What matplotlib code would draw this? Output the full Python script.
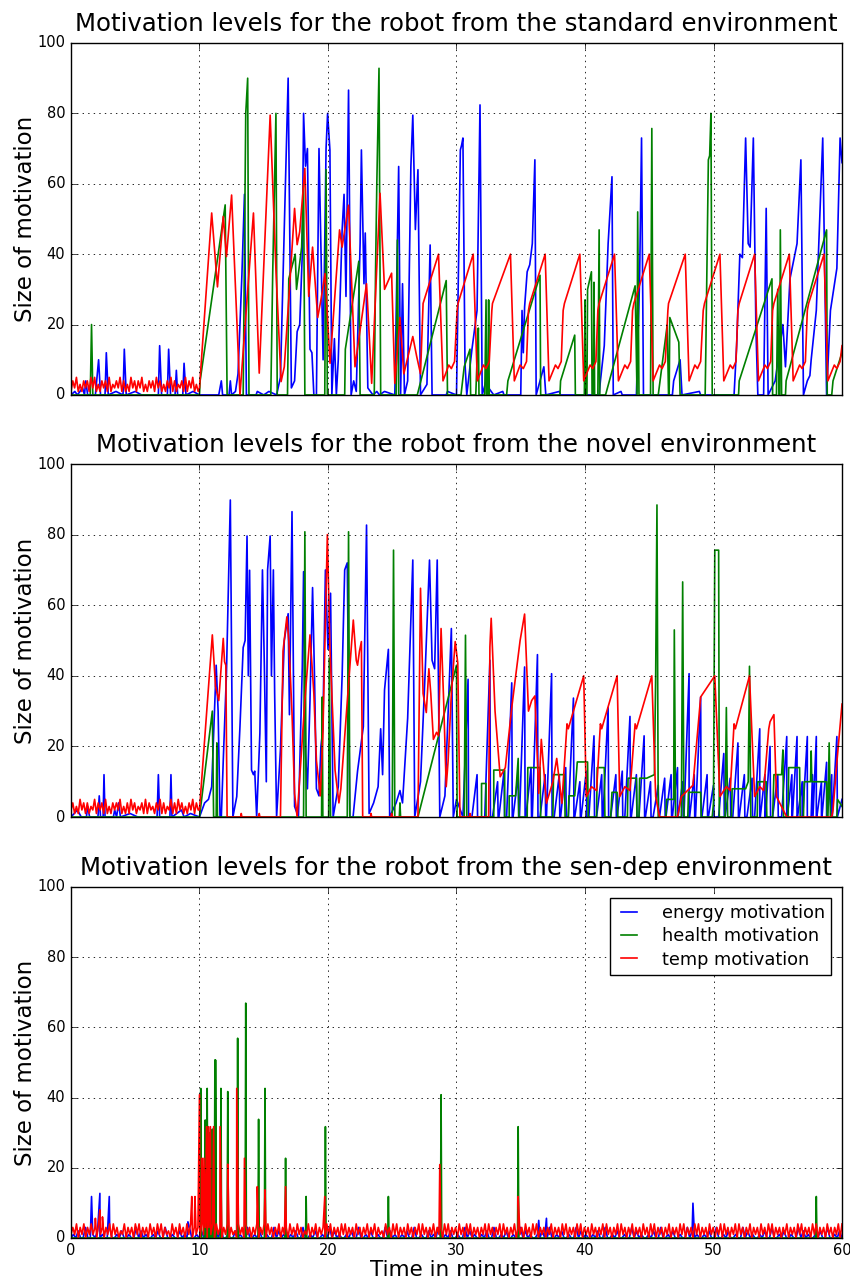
import numpy as np
import matplotlib
matplotlib.use("Agg")
import matplotlib.pyplot as plt

# values: (time in minutes, size of motivation)

TITLES = ["Motivation levels for the robot from the standard environment",
          "Motivation levels for the robot from the novel environment",
          "Motivation levels for the robot from the sen-dep environment"]
LABELS = ["energy motivation", "health motivation", "temp motivation"]
X_TICKS = [0, 10, 20, 30, 40, 50, 60]
Y_TICKS = [0, 20, 40, 60, 80, 100]

# ---------------- standard environment ----------------
STD_TEMP_BASE = "14251314241525131424151324251413152414251314241524131425141324151425131"
STD_TEMP = [
    (10.0, 2), (10.95, 51.7), (11.4, 30.7), (11.85, 50.7), (12.1, 39.3), (12.5, 56.8),
    (13.15, 0), (14.2, 51.7), (14.65, 6.2), (15.5, 79.5), (15.95, 35.5), (16.35, 3.8),
    (16.6, 8), (17.0, 30), (17.4, 53), (17.6, 42.7), (17.8, 46.4), (18.2, 64.4),
    (18.5, 28), (18.8, 42), (19.2, 22), (19.45, 27), (19.77, 34.5), (20.16, 9),
    (20.9, 46.9), (21.1, 42), (21.6, 53.9), (22.1, 8), (23.0, 31.6), (23.4, 3.3),
    (24.05, 57.3), (24.4, 30), (24.95, 34.6), (25.2, 3.3), (25.6, 22), (25.9, 6),
    (26.6, 16.6), (26.9, 11), (27.2, 6), (27.4, 26),
    (28.6, 40), (28.95, 4), (29.4, 8.5), (29.6, 7.5), (29.85, 9.5), (30.05, 24), (30.12, 26),
    (31.3, 40), (31.62, 4), (32.1, 8.5), (32.3, 7.5), (32.55, 9.5), (32.75, 24), (32.8, 26),
    (34.2, 40), (34.5, 4), (34.95, 8.5), (35.2, 7.5), (35.45, 9.5), (35.6, 24), (35.7, 26),
    (36.9, 40), (37.2, 4), (37.7, 8.5), (37.9, 7.5), (38.15, 9.5), (38.3, 24), (38.4, 26),
    (39.6, 40), (39.9, 4), (40.4, 8.5), (40.6, 7.5), (40.85, 9.5), (41.0, 24), (41.1, 26),
    (42.3, 40), (42.6, 4), (43.1, 8.5), (43.3, 7.5), (43.55, 9.5), (43.7, 24), (43.8, 26),
    (45.0, 40), (45.3, 4), (45.8, 8.5), (46.0, 7.5), (46.25, 9.5), (46.45, 24), (46.5, 26),
    (47.8, 40), (48.1, 4), (48.55, 8.5), (48.75, 7.5), (49.0, 9.5), (49.2, 24), (49.3, 26),
    (50.5, 40), (50.8, 4), (51.3, 8.5), (51.5, 7.5), (51.75, 9.5), (51.9, 24), (52.0, 26),
    (53.2, 40), (53.5, 4), (54.0, 8.5), (54.2, 7.5), (54.45, 9.5), (54.6, 24), (54.7, 26),
    (55.9, 40), (56.2, 4), (56.7, 8.5), (56.9, 7.5), (57.15, 9.5), (57.3, 24), (57.4, 26),
    (58.6, 40), (58.9, 4), (59.4, 8.5), (59.6, 7.5), (59.85, 9.5), (60.0, 14),
]
STD_ENERGY = [
    (0, 0), (0.3, 1), (0.5, 0), (0.9, 2), (1.05, 0), (1.15, 4), (1.3, 0), (1.9, 0), (2.15, 10),
    (2.3, 0), (2.65, 0), (2.75, 12), (2.9, 0), (3.5, 1), (4.05, 0), (4.15, 13), (4.3, 0),
    (5.0, 1), (5.5, 0), (6.8, 0), (6.9, 14), (7.05, 0), (7.5, 0), (7.6, 13), (7.75, 0),
    (8.1, 0), (8.2, 7), (8.3, 0), (8.7, 0), (8.8, 9), (8.95, 0), (9.5, 1), (10.0, 0),
    (11.5, 0), (11.7, 4), (11.8, 0), (12.3, 0), (12.4, 4), (12.5, 0), (12.8, 1), (13.0, 6),
    (13.3, 34), (13.5, 57), (13.65, 0), (14.4, 0), (14.5, 1), (15.0, 0), (15.4, 1), (16.0, 0),
    (16.3, 5), (16.55, 40), (16.9, 90), (17.15, 2), (17.4, 4), (17.6, 18), (17.8, 20),
    (18.0, 40), (18.1, 80), (18.25, 65), (18.4, 70), (18.5, 40), (18.6, 13), (18.75, 12),
    (18.9, 0), (19.1, 0), (19.3, 70), (19.45, 42.6), (19.62, 10), (19.85, 70), (19.97, 80),
    (20.15, 69.6), (20.3, 0), (20.5, 16), (20.65, 0), (20.8, 10), (21.1, 46.9), (21.25, 57),
    (21.4, 28), (21.6, 86.6), (21.8, 0), (22.0, 4), (22.2, 1), (22.5, 43), (22.6, 69.6),
    (22.8, 31.6), (22.9, 46), (23.1, 2), (23.5, 0), (23.8, 1), (24.0, 0), (24.4, 1), (25.2, 0),
    (25.5, 64.9), (25.65, 0), (25.8, 31.6), (25.95, 0), (26.2, 4), (26.45, 64.9), (26.6, 79.5),
    (26.8, 47), (27.0, 64), (27.2, 0), (27.7, 3), (27.95, 42.6), (28.1, 0), (29.2, 0), (29.3, 1),
    (30.0, 0), (30.3, 69.6), (30.4, 71), (30.5, 73), (30.66, 9), (30.8, 0), (31.2, 12.9),
    (31.6, 24), (31.83, 82.4), (32.0, 0), (32.3, 4), (32.5, 2), (32.9, 0), (33.6, 1), (33.7, 0),
    (35.0, 0), (35.1, 24), (35.2, 12), (35.3, 25), (35.5, 35), (35.7, 37), (35.9, 43),
    (36.1, 66.8), (36.2, 0), (36.5, 4), (36.8, 8), (36.95, 0), (38.0, 1), (38.1, 0),
    (41.1, 0), (41.2, 4), (41.5, 14), (41.8, 43), (42.1, 62), (42.2, 0), (42.8, 1), (42.9, 0),
    (44.0, 0), (44.25, 33), (44.4, 73), (44.55, 0), (46.8, 0), (46.9, 4), (47.4, 10),
    (47.55, 0), (48.9, 1), (49.0, 0), (51.6, 0), (51.8, 14), (52.05, 40), (52.25, 39),
    (52.5, 73), (52.7, 43), (52.85, 42), (53.1, 73), (53.3, 19), (53.45, 0), (53.9, 0),
    (54.1, 53), (54.25, 0), (54.8, 4), (55.4, 20), (55.6, 8), (55.95, 33), (56.5, 43),
    (56.8, 66.8), (57.0, 0), (57.3, 4), (57.5, 5.5), (57.6, 10), (58.0, 24), (58.5, 73),
    (58.8, 0), (59.1, 24), (59.6, 36), (59.85, 73), (60.0, 66),
]
STD_HEALTH = [
    (0, 0), (1.5, 0), (1.6, 20), (1.7, 0), (10.0, 0), (10.05, 4), (12.0, 54), (12.15, 0),
    (13.4, 0), (13.6, 80), (13.75, 90), (13.85, 0), (15.55, 0), (15.7, 35), (15.95, 80),
    (16.05, 0), (16.85, 0), (16.95, 33), (17.45, 40), (17.55, 30), (17.95, 42), (18.1, 60),
    (18.2, 0), (19.75, 0), (19.85, 64), (19.95, 0), (21.3, 0), (21.35, 13), (22.4, 38),
    (22.5, 0), (23.6, 0), (23.7, 35), (23.8, 60), (23.97, 92.8), (24.1, 0), (25.3, 0),
    (25.4, 44), (25.5, 0), (26.95, 0), (29.2, 32.5), (29.3, 0), (30.35, 0), (30.6, 8),
    (31.05, 13), (31.1, 0), (31.5, 0), (31.6, 10), (31.7, 19), (31.75, 0), (32.2, 0),
    (32.3, 27), (32.35, 0), (32.45, 0), (32.5, 27), (32.55, 0), (33.9, 0), (34.0, 4),
    (36.5, 34), (36.55, 0), (38.05, 0), (38.1, 4), (39.2, 17), (39.25, 0), (39.95, 0),
    (40.0, 27), (40.05, 0), (40.15, 0), (40.2, 30), (40.5, 35), (40.55, 0), (40.65, 0),
    (40.7, 32), (40.75, 0), (41.0, 0), (41.1, 46.9), (41.15, 0), (41.6, 0), (43.9, 31),
    (44.05, 0), (44.1, 52), (44.2, 0), (45.1, 0), (45.2, 75.7), (45.3, 0), (45.7, 0),
    (46.4, 20), (46.5, 0), (46.55, 0), (46.6, 22), (47.3, 15), (47.4, 0), (49.35, 0),
    (49.4, 12), (49.6, 66.8), (49.7, 68), (49.8, 80), (49.9, 0), (51.95, 0), (52.0, 4),
    (54.55, 33), (54.6, 0), (54.9, 0), (55.0, 30), (55.1, 0), (55.15, 0), (55.2, 46.9),
    (55.3, 0), (55.6, 0), (55.65, 4), (58.8, 46.9), (58.85, 0), (59.2, 0), (59.3, 4), (60.0, 12),
]

# ---------------- novel environment ----------------
NOV_TEMP_BASE = "24131524141325142415131424251314152413241514231425141325141524131425142"
NOV_TEMP = [
    (10.0, 2), (11.0, 51.6), (11.25, 37), (11.5, 33), (11.85, 50.6), (11.95, 44), (12.05, 43),
    (12.15, 0), (13.2, 0), (13.25, 1), (13.3, 0), (14.6, 0), (14.65, 1), (14.7, 0), (16.3, 0),
    (16.5, 47), (16.8, 56.7), (16.95, 50), (17.2, 29.4), (17.4, 6.6), (17.6, 0), (18.2, 33),
    (18.6, 51.6), (18.9, 35), (19.1, 16), (19.4, 6), (19.6, 23), (19.95, 80), (20.15, 48),
    (20.3, 35), (20.55, 13.3), (20.75, 7), (20.85, 4), (21.0, 8), (21.97, 55.8), (22.2, 44.4),
    (22.3, 43), (22.45, 47), (22.6, 49.7), (22.7, 0), (23.3, 0), (23.35, 1), (23.4, 0),
    (24.9, 0), (24.95, 1), (25.0, 0), (27.0, 0), (27.2, 64.8), (27.4, 35), (27.65, 29.6),
    (27.85, 42), (28.0, 35), (28.2, 22), (28.45, 24), (28.6, 23), (28.8, 53.4), (29.0, 33),
    (29.2, 8.6), (29.35, 16), (29.6, 35), (29.9, 49.7), (30.1, 43.6), (30.27, 0), (31.0, 0),
    (31.05, 1), (31.1, 0), (32.5, 0), (32.6, 48.2), (32.7, 56.3), (33.0, 30), (33.4, 11.4),
    (33.8, 14), (34.3, 31), (34.95, 50), (35.3, 57.5), (35.6, 30), (35.85, 33), (36.1, 34.3),
    (36.4, 6.7), (36.6, 22), (37.0, 3.9), (37.5, 10), (37.8, 16.6), (38.2, 3.9), (38.6, 26.4),
    (38.7, 25), (39.9, 40), (40.1, 5.8), (40.5, 8.6), (40.9, 7.5), (41.2, 26.4), (41.3, 25),
    (42.5, 40), (42.7, 5.8), (43.1, 8.6), (43.5, 7.5), (43.9, 26.4), (44.0, 25), (45.2, 40),
    (45.5, 5.8), (45.8, 0), (47.2, 0), (47.5, 5.8), (48.4, 9), (49.0, 34), (50.1, 40),
    (50.5, 5.8), (51.0, 8.6), (51.3, 7.5), (51.6, 26.4), (51.7, 25), (52.8, 40), (53.2, 5.8),
    (53.6, 8.6), (53.9, 7.5), (54.3, 25), (54.4, 27), (54.7, 29), (54.9, 5.8), (55.7, 0),
    (59.2, 0), (59.3, 2), (59.6, 15.5), (60.0, 32),
]
NOV_ENERGY = [
    (0, 0), (0.5, 2), (0.8, 0), (1.2, 0), (1.3, 3), (1.45, 0), (2.1, 0), (2.2, 6), (2.3, 0),
    (2.5, 0), (2.57, 12), (2.65, 0), (3.3, 0), (3.4, 2), (3.55, 0), (3.7, 4), (3.85, 0),
    (4.6, 1), (5.2, 0), (6.7, 0), (6.8, 12), (6.9, 0), (7.7, 0), (7.78, 12), (7.86, 0),
    (8.6, 2), (8.8, 0), (9.3, 1), (10.0, 0), (10.4, 4), (10.7, 5), (10.95, 8.6), (11.3, 43),
    (11.45, 30), (11.6, 0), (11.7, 0), (11.85, 16), (12.1, 40.7), (12.4, 89.8), (12.6, 0),
    (12.9, 5.8), (13.15, 25.6), (13.4, 48), (13.55, 50), (13.7, 79.6), (13.8, 40), (13.9, 69.9),
    (14.05, 13.3), (14.2, 12), (14.3, 13), (14.45, 0), (14.7, 23.7), (14.9, 70), (15.05, 42.6),
    (15.2, 10), (15.3, 70), (15.5, 79.6), (15.6, 40), (15.75, 70), (15.85, 35), (16.0, 0),
    (16.3, 19), (16.6, 50), (16.9, 57.6), (17.0, 29), (17.2, 86.5), (17.3, 45), (17.4, 3),
    (17.7, 0), (18.0, 42.6), (18.1, 69.5), (18.25, 18), (18.4, 8), (18.6, 33), (18.8, 65),
    (18.95, 40), (19.1, 8), (19.3, 6), (19.45, 20), (19.6, 25), (19.8, 70), (20.0, 47.5),
    (20.2, 63.4), (20.4, 0), (20.8, 8.6), (21.1, 40), (21.3, 70), (21.5, 72), (21.7, 0),
    (21.95, 0), (22.3, 13), (22.75, 25.6), (23.0, 82.7), (23.2, 1), (23.55, 4), (23.9, 8.6),
    (24.1, 25), (24.25, 12), (24.4, 36), (24.7, 47.5), (24.8, 0), (25.3, 4), (25.6, 7.5),
    (25.8, 4), (26.2, 28), (26.6, 72.8), (26.75, 0), (27.2, 10), (27.55, 40), (27.9, 72.8),
    (28.1, 44.4), (28.3, 42), (28.5, 72.8), (28.7, 0), (29.1, 6), (29.35, 30), (29.6, 53.4),
    (29.75, 0), (30.0, 5),
]
# peaks of the short blue ramps after minute 30
NOV_ENERGY_RAMPS = [
    (30.9, 39), (31.6, 12), (32.6, 44.4), (33.2, 10), (33.7, 13), (34.3, 38), (34.8, 12),
    (35.3, 42.5), (35.8, 14), (36.3, 46), (36.9, 12), (37.4, 40.6), (38.0, 12), (38.5, 14),
    (39.1, 33.7), (39.6, 10), (40.1, 13), (40.7, 23), (41.3, 12), (41.8, 31), (42.4, 12),
    (42.9, 13), (43.5, 28.5), (44.0, 12), (44.6, 23), (45.1, 10), (45.7, 9), (46.2, 11),
    (46.7, 12), (47.2, 14), (47.6, 10), (48.1, 40.6), (48.5, 12), (49.0, 34), (49.5, 12),
    (50.0, 9), (50.8, 18), (51.3, 11), (51.9, 21), (52.4, 12), (53.0, 11), (53.6, 25),
    (54.0, 12), (54.4, 20), (55.0, 12), (55.7, 22.8), (56.1, 12), (56.5, 22.8), (56.9, 10),
    (57.3, 22.8), (57.7, 12), (58.0, 22.8), (58.4, 10), (58.8, 15.5), (59.2, 12), (59.6, 22.8),
]
NOV_HEALTH = [
    (0, 0), (10.0, 0), (11.0, 30), (11.1, 0), (11.3, 0), (11.35, 21), (11.4, 0), (18.1, 0),
    (18.2, 80.8), (18.3, 0), (19.5, 0), (19.55, 34), (19.6, 0), (20.05, 0), (20.1, 45),
    (20.2, 0), (21.5, 0), (21.6, 80.8), (21.7, 0), (25.0, 0), (25.1, 75.6), (25.2, 0),
    (25.55, 0), (25.6, 4), (25.65, 0), (27.0, 0), (30.0, 43), (30.05, 0), (30.6, 0),
    (30.7, 51.5), (30.8, 0), (31.95, 0), (31.95, 9.5), (32.3, 9.5), (32.3, 0), (32.9, 0),
    (32.9, 13.3), (33.75, 13.3), (33.75, 0), (34.1, 0), (34.1, 6), (34.6, 6), (34.8, 16.6),
    (34.85, 0), (35.5, 0), (35.55, 14), (36.5, 14), (36.55, 0), (37.5, 0), (37.55, 12),
    (38.4, 12), (38.45, 0), (38.7, 0), (38.75, 6), (39.2, 6), (39.4, 15.6), (40.2, 15.6),
    (40.25, 0), (40.9, 0), (40.95, 14), (41.5, 14), (41.55, 0), (42.0, 0), (42.1, 7),
    (42.5, 7), (42.55, 0), (43.3, 0), (43.35, 11), (44.0, 11), (44.05, 0), (44.2, 0),
    (44.25, 11), (44.8, 11), (45.4, 12), (45.5, 40), (45.6, 88.4), (45.7, 0), (46.3, 0),
    (46.35, 5), (46.9, 5), (46.95, 53), (47.05, 0), (47.5, 0), (47.6, 66.6), (47.7, 0),
    (48.0, 0), (48.05, 7), (49.0, 7), (49.05, 0), (49.9, 0), (50.0, 4), (50.1, 75.6),
    (50.4, 75.6), (50.45, 0), (50.9, 0), (51.0, 31), (51.1, 0), (51.4, 0), (51.45, 8),
    (52.5, 8), (52.7, 10), (52.8, 42.7), (52.9, 0), (53.4, 0), (53.45, 10), (54.1, 10),
    (54.15, 0), (54.6, 0), (54.7, 12), (55.3, 12), (55.4, 19), (55.45, 0), (55.8, 0),
    (55.85, 14), (56.7, 14), (56.75, 0), (57.0, 0), (57.05, 10), (57.55, 10), (57.6, 18.7),
    (57.65, 10), (58.8, 10), (58.85, 0), (58.9, 0), (59.0, 21), (59.1, 0), (59.6, 0),
    (59.65, 5), (60.0, 3),
]

# ---------------- sen-dep environment ----------------
SEN_TEMP_BASE = (
    "1314031403141304130314041302140313041403130413041403120413041304140313"
    "0413031404130314031204130413031403140413031403130413041302140314031304"
    "1403130414031304130314031403120413041403130413031404130314031304140313"
    "0413041403130314041303140413031403130413041403130314031304140313041403"
    "1304130314041303140413031403130413041403130314031304140313041403130413"
    "0314041303140413031403130413041403130314031304140313041403130413031404"
)
SEN_TEMP_PEAKS = [
    (1.9, 5.6), (2.25, 8), (2.45, 6), (9.4, 11.8), (9.65, 11.8), (10.0, 40.8), (10.2, 22.7),
    (10.35, 22.7), (10.55, 31.7), (10.7, 31.7), (10.85, 31.7), (11.1, 31.7), (11.6, 31.7),
    (12.2, 21), (12.9, 42.6), (13.5, 22.7), (14.5, 14.6), (15.1, 13.7), (16.7, 14.6),
    (19.75, 11.8), (28.7, 20.9), (34.8, 11.8),
]
SEN_ENERGY_BASE = (
    "0102003001020100300102001003020100102003001002010300102001002030010020"
    "1003001020010030201001020030010200100302010010200300102001003020100102"
    "0030010020103001020010030201001020030010200100302010010200300102001003"
    "0201001020030010200100302010010200300102001003020100102003001020010030"
    "2010010200300102001003020100102003001020"
)
SEN_ENERGY_PEAKS = [(1.6, 11.8), (2.25, 12.7), (2.98, 11.8), (9.1, 4.6), (36.4, 5), (37.0, 5.6),
                    (48.4, 9.9)]
SEN_HEALTH_PEAKS = [
    (10.1, 42.6), (10.45, 33.6), (10.6, 42.6), (10.8, 30), (11.0, 31), (11.2, 50.7),
    (11.25, 50.7), (11.67, 42.6), (12.2, 41.7), (12.97, 56.9), (13.6, 66.9), (14.6, 33.8),
    (15.1, 42.6), (16.7, 22.7), (18.3, 11.8), (19.8, 31.7), (24.7, 11.8), (28.8, 40.8),
    (34.8, 31.7), (58.0, 11.8),
]


def noise(t0, t1, digits):
    ts = np.linspace(t0, t1, len(digits))
    return [(t, float(c)) for t, c in zip(ts, digits)]


def spikes(peaks, w=0.05):
    pts = [(0, 0), (60, 0)]
    for t, v in peaks:
        pts += [(t - w, 0), (t, v), (t + w, 0)]
    return pts


def ramps(peaks, rise=0.4):
    pts = []
    for t, v in peaks:
        pts += [(t - rise, 0), (t, v), (t + 0.04, 0)]
    return pts


def series(*parts):
    pts = sorted([p for part in parts for p in part], key=lambda p: p[0])
    return [p[0] for p in pts], [p[1] for p in pts]


panels = [
    (series(STD_ENERGY), series(STD_HEALTH), series(noise(0, 9.9, STD_TEMP_BASE), STD_TEMP)),
    (series(NOV_ENERGY, ramps(NOV_ENERGY_RAMPS), [(60.0, 5)]), series(NOV_HEALTH),
     series(noise(0, 9.9, NOV_TEMP_BASE), NOV_TEMP)),
    (series(noise(0, 60, SEN_ENERGY_BASE), SEN_ENERGY_PEAKS), series(spikes(SEN_HEALTH_PEAKS)),
     series(noise(0, 60, SEN_TEMP_BASE), SEN_TEMP_PEAKS)),
]

plt.style.use("classic")
plt.rcParams["font.family"] = "DejaVu Sans"

fig = plt.figure(figsize=(8.5, 12.79), dpi=100, facecolor="white")
rects = [[0.0835, 0.6912, 0.9071, 0.2752],
         [0.0835, 0.3612, 0.9071, 0.2760],
         [0.0835, 0.0321, 0.9071, 0.2744]]

for i, (rect, data) in enumerate(zip(rects, panels)):
    ax = fig.add_axes(rect)
    for (t, v), c, lab in zip(data, ["b", "g", "r"], LABELS):
        ax.plot(t, v, color=c, lw=1.2, label=lab)
    ax.set_xlim(0, 60)
    ax.set_ylim(0, 100)
    ax.set_xticks(X_TICKS)
    ax.set_yticks(Y_TICKS)
    ax.grid(True, color="k", linestyle=":", linewidth=0.6)
    ax.tick_params(labelsize=10.5)
    ax.set_title(TITLES[i], fontsize=17.6, pad=8.5)
    ax.set_ylabel("Size of motivation", fontsize=16.5, labelpad=0)
    if i < 2:
        ax.set_xticklabels([])
    else:
        ax.set_xlabel("Time in minutes", fontsize=15.5, labelpad=1)
        ax.legend(loc="upper right", fontsize=12.8, frameon=True, fancybox=False,
                  handlelength=1.5, handletextpad=1.1, labelspacing=0.3,
                  borderpad=0.35, borderaxespad=0.6)

fig.savefig("out.png", dpi=100, facecolor="white")
